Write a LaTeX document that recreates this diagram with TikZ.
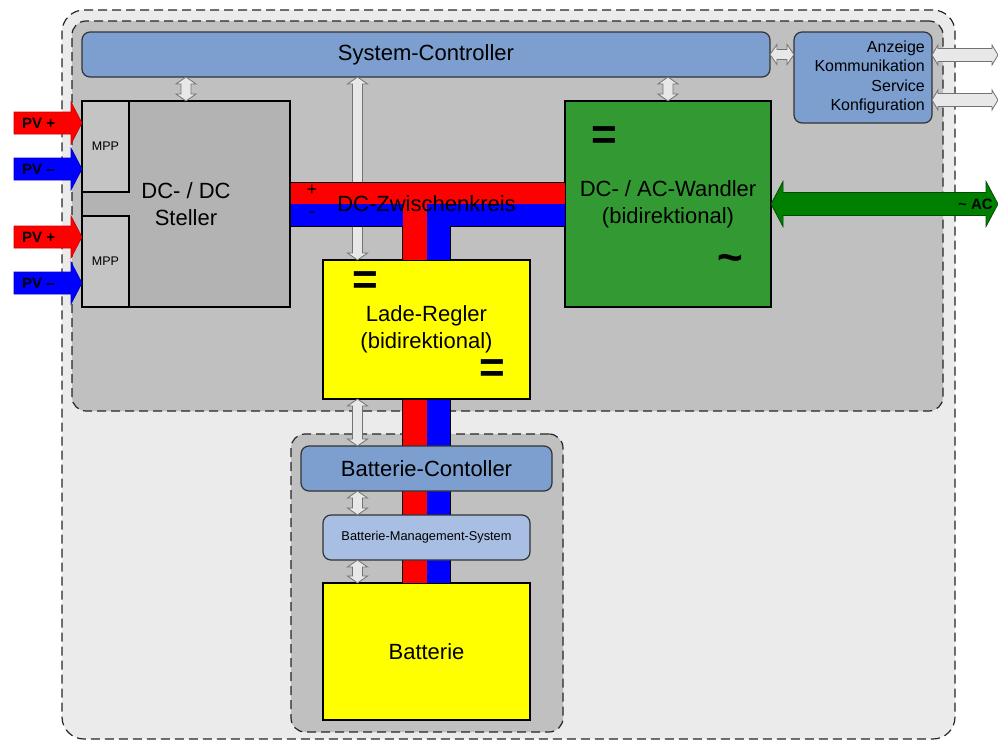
\documentclass[tikz,border=0pt]{standalone}
\usepackage{fontspec}
\setmainfont{Liberation Sans}
\usepackage{xcolor}
\usepackage{tikz}
\usetikzlibrary{calc}

\definecolor{ctrlblue}{HTML}{7C9FD0}
\definecolor{bmsblue}{HTML}{A8BFE3}
\definecolor{wandlergreen}{HTML}{339933}
\definecolor{acgreen}{HTML}{008000}
\definecolor{stellergray}{HTML}{B3B3B3}
\definecolor{mppgray}{HTML}{C4C4C4}
\definecolor{innergray}{HTML}{C0C0C0}
\definecolor{outergray}{HTML}{EBEBEB}
\definecolor{siggray}{HTML}{E8E8E8}
\definecolor{busred}{HTML}{FF0000}
\definecolor{busblue}{HTML}{0000FF}
\definecolor{reglergelb}{HTML}{FFFF00}

\newcommand{\bigfont}{\fontsize{22}{27}\selectfont}
\newcommand{\anzfont}{\fontsize{16}{19.5}\selectfont}
\newcommand{\mppfont}{\fontsize{12.5}{15}\selectfont}
\newcommand{\bmsfont}{\fontsize{12.8}{15}\selectfont}
\newcommand{\pvfont}{\bfseries\fontsize{15}{18}\selectfont}
\newcommand{\symfont}{\bfseries\fontsize{44}{44}\selectfont}

% block arrows: #1 style, #2 first end, #3 second end, #4 half body, #5 half head, #6 head length
\newcommand{\dblarrow}[6]{%
  \draw[#1] let \p1=#2, \p2=#3 in
    (\x1,\y1) -- (\x1+#6,\y1+#5) -- (\x1+#6,\y1+#4) -- (\x2-#6,\y1+#4) -- (\x2-#6,\y1+#5) -- (\x2,\y1)
    -- (\x2-#6,\y1-#5) -- (\x2-#6,\y1-#4) -- (\x1+#6,\y1-#4) -- (\x1+#6,\y1-#5) -- cycle;}
\newcommand{\onearrow}[6]{%
  \draw[#1] let \p1=#2, \p2=#3 in
    (\x1,\y1+#4) -- (\x2-#6,\y1+#4) -- (\x2-#6,\y1+#5) -- (\x2,\y1)
    -- (\x2-#6,\y1-#5) -- (\x2-#6,\y1-#4) -- (\x1,\y1-#4) -- cycle;}
\newcommand{\vdblarrow}[6]{%
  \draw[#1] let \p1=#2, \p2=#3 in
    (\x2,\y1) -- (\x2+#5,\y1-#6) -- (\x2+#4,\y1-#6) -- (\x2+#4,\y2+#6) -- (\x2+#5,\y2+#6) -- (\x2,\y2)
    -- (\x2-#5,\y2+#6) -- (\x2-#4,\y2+#6) -- (\x2-#4,\y1-#6) -- (\x2-#5,\y1-#6) -- cycle;}

\tikzset{
  zone/.style={draw=black!85, line width=1.2pt, dash pattern=on 9pt off 5pt, inner sep=0pt, outer sep=0pt},
  blockbox/.style={draw=black, line width=1.5pt, inner sep=0pt, outer sep=0pt, align=center, font=\bigfont},
  ctrlbox/.style={draw=black!80, line width=1.2pt, rounded corners=8pt, fill=ctrlblue, inner sep=0pt, outer sep=0pt},
  symbol/.style={font=\symfont, inner sep=0pt},
  sigarrow/.style={fill=siggray, draw=black!55, line width=0.8pt},
  pvplus/.style={fill=busred, draw=busred!80!black, line width=0.6pt},
  pvminus/.style={fill=busblue, draw=busblue!80!black, line width=0.6pt},
  acarrow/.style={fill=acgreen, draw=acgreen!60!black, line width=0.8pt},
  busline/.style={draw=black, line width=1pt}
}

\begin{document}
\begin{tikzpicture}[x=1pt, y=-1pt]
  \useasboundingbox (0,0) rectangle (998,742);
  % Zones
  \node[zone, fill=outergray, rounded corners=22pt, minimum width=893pt, minimum height=729pt] (anlage) at (508.5,374.5) {};
  \node[zone, fill=innergray, rounded corners=14pt, minimum width=871pt, minimum height=390pt] (innen) at (507.5,216) {};
  \node[zone, fill=innergray, rounded corners=14pt, minimum width=272pt, minimum height=298pt] (akku) at (427,583) {};

  % Controller
  \node[ctrlbox, minimum width=688pt, minimum height=45pt, font=\bigfont] (sysctl) at (426,54.5) {System-Controller};
  \node[ctrlbox, minimum width=138pt, minimum height=91pt] (anzeige) at (863,77.5) {};
  \node[font=\anzfont, align=right, anchor=east, inner sep=0pt] (anzeige-txt) at ($(anzeige.east)+(-7,0)$)
    {Anzeige\\Kommunikation\\Service\\Konfiguration};

  % DC/DC Steller with MPP inputs
  \node[blockbox, fill=stellergray, minimum width=208pt, minimum height=206pt] (dcdc) at (186,204) {DC- / DC\\Steller};
  \node[blockbox, fill=mppgray, minimum width=47pt, minimum height=91pt, font=\mppfont, anchor=north west] (mpp1) at (dcdc.north west) {MPP};
  \node[blockbox, fill=mppgray, minimum width=47pt, minimum height=91pt, font=\mppfont, anchor=south west] (mpp2) at (dcdc.south west) {MPP};

  % DC/AC Wandler
  \node[blockbox, fill=wandlergreen, minimum width=206pt, minimum height=206pt] (dcac) at (668,204) {DC- / AC-Wandler\\(bidirektional)};
  \node[symbol] (dcac-dc) at ($(dcac.north west)+(39,37)$) {=};
  \node[symbol] (dcac-ac) at ($(dcac.south east)+(-41,-44)$) {\textasciitilde};

  % Lade-Regler and Batterie
  \node[blockbox, fill=reglergelb, minimum width=207pt, minimum height=139pt] (lade) at (426.5,329.5) {Lade-Regler\\(bidirektional)};
  \node[symbol] (lade-in) at ($(lade.north west)+(42,23)$) {=};
  \node[symbol] (lade-out) at ($(lade.south east)+(-38,-28)$) {=};
  \node[blockbox, fill=reglergelb, minimum width=207pt, minimum height=137pt] (batt) at (426.5,651.5) {Batterie};

  % Signal line under the bus
  \vdblarrow{sigarrow}{(sysctl.south)}{($(lade.north)+(-69,0)$)}{5pt}{10pt}{7pt}

  % DC-Zwischenkreis
  \fill[busred] ($(dcdc.east)+(0,-22)$) rectangle (dcac.west);
  \fill[busblue] (dcdc.east) rectangle ($(dcac.west)+(0,22)$);
  \fill[busred] ($(lade.north)+(-24,0)$) rectangle (dcdc.east -| lade.north);
  \fill[busblue] (lade.north) rectangle ($(dcdc.east -| lade.north)+(24,22)$);
  \draw[busline] ($(dcdc.east)+(0,-22)$) -- ($(dcac.west)+(0,-22)$) -- ($(dcac.west)+(0,22)$)
    -- ($(dcdc.east -| lade.north)+(24,22)$) -- ($(lade.north)+(24,0)$) -- ($(lade.north)+(-24,0)$)
    -- ($(dcdc.east -| lade.north)+(-24,22)$) -- ($(dcdc.east)+(0,22)$) -- cycle;
  \node[font=\fontsize{18}{18}\selectfont, inner sep=0pt] (bus-plus) at ($(dcdc.east)+(22,-14)$) {+};
  \node[font=\fontsize{18}{18}\selectfont, inner sep=0pt] (bus-minus) at ($(dcdc.east)+(22,11)$) {-};
  \node[font=\bigfont, inner sep=0pt] (bus-txt) at (dcdc.east -| lade.north) {DC-Zwischenkreis};

  % Batterie line
  \fill[busred] ($(lade.south)+(-24,0)$) rectangle (batt.north);
  \fill[busblue] (lade.south) rectangle ($(batt.north)+(24,0)$);
  \draw[busline] ($(lade.south)+(-24,0)$) rectangle ($(batt.north)+(24,0)$);

  % Batterie controller
  \node[ctrlbox, minimum width=251pt, minimum height=45pt, font=\bigfont] (bc) at (426.5,468.5) {Batterie-Contoller};
  \node[ctrlbox, fill=bmsblue, minimum width=207pt, minimum height=45pt, font=\bmsfont] (bms) at (426.5,537.5) {Batterie-Management-System};

  % PV inputs
  \coordinate (pv1p) at (14,123);
  \coordinate (pv1m) at (14,169);
  \coordinate (pv2p) at (14,237);
  \coordinate (pv2m) at (14,283);
  \onearrow{pvplus}{(pv1p)}{(mpp1.west)}{11pt}{21pt}{11pt}
  \onearrow{pvminus}{(pv1m)}{(mpp1.west)}{11pt}{21pt}{11pt}
  \onearrow{pvplus}{(pv2p)}{(mpp2.west)}{11pt}{21pt}{11pt}
  \onearrow{pvminus}{(pv2m)}{(mpp2.west)}{11pt}{21pt}{11pt}
  \node[font=\pvfont, anchor=west, inner sep=0pt] (pv1p-txt) at ($(pv1p)+(8,0)$) {PV +};
  \node[font=\pvfont, anchor=west, inner sep=0pt] (pv1m-txt) at ($(pv1m)+(8,0)$) {PV –};
  \node[font=\pvfont, anchor=west, inner sep=0pt] (pv2p-txt) at ($(pv2p)+(8,0)$) {PV +};
  \node[font=\pvfont, anchor=west, inner sep=0pt] (pv2m-txt) at ($(pv2m)+(8,0)$) {PV –};

  % AC side
  \coordinate (netz) at (998,204);
  \dblarrow{acarrow}{(dcac.east)}{(netz)}{11.5pt}{22.5pt}{12pt}
  \node[font=\pvfont, anchor=east, inner sep=0pt] (netz-txt) at ($(netz)+(-5,0)$) {\textasciitilde{} AC};

  % Signal lines
  \vdblarrow{sigarrow}{(sysctl.south)}{(dcdc.north)}{5pt}{10pt}{7pt}
  \vdblarrow{sigarrow}{(sysctl.south)}{(dcac.north)}{5pt}{10pt}{7pt}
  \vdblarrow{sigarrow}{(lade.south)}{($(bc.north)+(-69,0)$)}{5pt}{10pt}{7pt}
  \vdblarrow{sigarrow}{(bc.south)}{($(bms.north)+(-69,0)$)}{5pt}{10pt}{7pt}
  \vdblarrow{sigarrow}{(bms.south)}{($(batt.north)+(-69,0)$)}{5pt}{10pt}{7pt}
  \dblarrow{sigarrow}{(sysctl.east)}{(anzeige.west)}{5pt}{10pt}{7pt}
  \coordinate (io-a) at (998,55);
  \coordinate (io-b) at (998,100);
  \dblarrow{sigarrow}{($(anzeige.east)+(0,-22.5)$)}{(io-a)}{6.5pt}{10pt}{6pt}
  \dblarrow{sigarrow}{($(anzeige.east)+(0,22.5)$)}{(io-b)}{6.5pt}{10pt}{6pt}
\end{tikzpicture}
\end{document}
